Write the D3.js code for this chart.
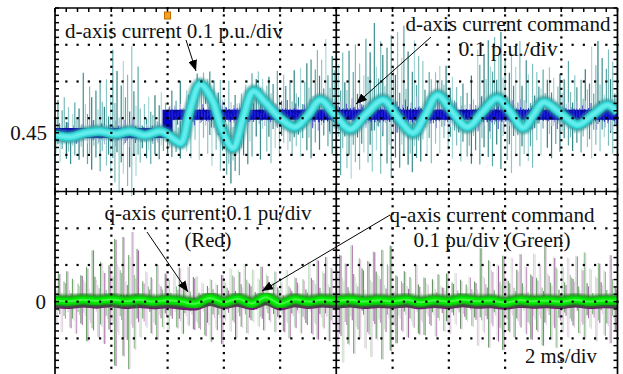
<!DOCTYPE html>
<html>
<head>
<meta charset="utf-8">
<script src="https://cdn.jsdelivr.net/npm/d3@7"></script>
<style>
  body { margin: 0; background: #fff; }
  svg { display: block; }
</style>
</head>
<body>
<script>
// ---- data (2 ms/div, 0.1 p.u./div) ----
const dTime = [0, 0.53, 1.07, 1.6, 2.14, 2.67, 3.2, 3.74, 3.99, 4.27, 4.48, 4.8, 5.16, 5.59, 5.94, 6.33, 6.69, 7.05, 7.47, 8.0, 8.54, 9.0, 9.43, 9.96, 10.5, 11.03, 11.67, 12.2, 12.74, 13.17, 13.6, 14.13, 14.66, 15.2, 15.73, 16.19, 16.65, 17.01, 17.37, 17.97, 18.58, 19.11, 19.64, 20];
const dCurrent = [0.445, 0.439, 0.45, 0.455, 0.447, 0.455, 0.444, 0.455, 0.447, 0.431, 0.423, 0.512, 0.583, 0.54, 0.458, 0.409, 0.491, 0.564, 0.534, 0.491, 0.466, 0.499, 0.54, 0.499, 0.46, 0.499, 0.54, 0.491, 0.45, 0.499, 0.553, 0.507, 0.466, 0.507, 0.545, 0.507, 0.464, 0.499, 0.534, 0.504, 0.472, 0.499, 0.526, 0.507];
const dCmdTime = [0, 4, 20];
const dCommand = [0.45, 0.5, 0.5];

const qTime = [0, 0.5, 1, 1.5, 2, 2.5, 3, 3.5, 4, 4.5, 5, 5.5, 6, 6.5, 7, 7.5, 8, 8.5, 9, 9.5, 10, 10.5, 11, 11.5, 12, 12.5, 13, 13.5, 14, 14.5, 15, 15.5, 16, 16.5, 17, 17.5, 18, 18.5, 19, 19.5, 20];
const qCommand = [0.004, 0.001, 0.005, 0.002, 0.006, 0.001, 0.005, 0.0, 0.004, 0.0, -0.006, 0.01, -0.002, 0.008, -0.005, 0.012, -0.006, 0.006, 0.0, 0.005, 0.002, 0.005, 0.0, 0.004, 0.001, 0.005, -0.002, 0.004, 0.0, 0.006, 0.001, 0.003, -0.003, 0.004, 0.001, 0.003, 0.0, 0.005, 0.0, 0.003, 0.002];
const qCurrent = [-0.01, -0.012, -0.008, -0.011, -0.007, -0.012, -0.009, -0.013, -0.01, -0.014, -0.016, -0.004, -0.012, -0.006, -0.015, -0.002, -0.016, -0.007, -0.012, -0.008, -0.01, -0.008, -0.012, -0.009, -0.011, -0.008, -0.013, -0.009, -0.012, -0.007, -0.011, -0.01, -0.014, -0.009, -0.011, -0.01, -0.012, -0.008, -0.012, -0.01, -0.011];

// switching-noise envelope per 1 ms slot (absolute values)
const dNoiseTop = [0.553, 0.616, 0.689, 0.567, 0.594, 0.621, 0.594, 0.621, 0.648, 0.708, 0.703, 0.752, 0.757, 0.648, 0.608, 0.735, 0.703, 0.635, 0.648, 0.711];
const dNoiseBottom = [0.363, 0.336, 0.254, 0.363, 0.377, 0.336, 0.309, 0.363, 0.377, 0.377, 0.322, 0.322, 0.328, 0.363, 0.363, 0.336, 0.336, 0.377, 0.39, 0.377];
const cmdNoise = [0.03, 0.035, 0.04, 0.03, 0.035, 0.04, 0.045, 0.035, 0.04, 0.05, 0.045, 0.05, 0.05, 0.04, 0.035, 0.05, 0.045, 0.04, 0.04, 0.045];
const qNoiseTop = [0.087, 0.141, 0.2, 0.1, 0.109, 0.073, 0.12, 0.1, 0.087, 0.128, 0.155, 0.16, 0.1, 0.087, 0.082, 0.147, 0.136, 0.16, 0.141, 0.128];
const qNoiseBottom = [-0.09, -0.13, -0.19, -0.117, -0.09, -0.125, -0.103, -0.09, -0.103, -0.117, -0.171, -0.171, -0.117, -0.103, -0.09, -0.136, -0.117, -0.13, -0.117, -0.117];
// relative spike lengths (hand read pattern)
const spikeUp = [0.42, 0.88, 0.27, 0.63, 0.95, 0.35, 0.71, 0.18, 0.54, 0.82, 0.4, 0.66, 0.23, 0.99, 0.47, 0.31, 0.76, 0.58, 0.2, 0.69, 0.37, 0.85, 0.5];
const spikeDown = [0.6, 0.3, 0.92, 0.45, 0.22, 0.78, 0.52, 0.97, 0.34, 0.68, 0.26, 0.83, 0.41, 0.57, 0.15, 0.74, 0.49, 0.88, 0.32];

const W = 623, H = 374;
const svg = d3.select("body").append("svg").attr("width", W).attr("height", H);

// pick a serif face that is really installed (compare against a sans width)
function pickSerif() {
  const probe = svg.append("text").attr("font-size", 40).text("d-axis current command");
  probe.attr("font-family", "Liberation Sans");
  const sans = probe.node().getComputedTextLength();
  let found = "serif";
  for (const f of ["Liberation Serif", "Times New Roman", "DejaVu Serif", "Noto Serif", "serif"]) {
    probe.attr("font-family", f);
    if (Math.abs(probe.node().getComputedTextLength() - sans) > 2) { found = f; break; }
  }
  probe.remove();
  return found;
}
const FONT = pickSerif();

const x = d3.scaleLinear().domain([0, 20]).range([55, 617.5]);
const div = d3.scaleLinear().domain([0, 10]).range([8, 375]);
const yD = d3.scaleLinear().domain([0.45, 0.55]).range([133, 133 - (div(1) - div(0))]);
const yQ = d3.scaleLinear().domain([0, 0.1]).range([div(8), div(7)]);

const defs = svg.append("defs");
defs.append("clipPath").attr("id", "plot")
  .append("rect").attr("x", x(0)).attr("y", div(0)).attr("width", x(20) - x(0)).attr("height", H - div(0));
const blur = defs.append("filter").attr("id", "soft").attr("x", "-5%").attr("y", "-50%").attr("width", "110%").attr("height", "200%");
blur.append("feGaussianBlur").attr("stdDeviation", 1.1);

const plot = svg.append("g").attr("clip-path", "url(#plot)");

function stepAt(times, vals) {
  return t => vals[Math.max(0, d3.bisectRight(times, t) - 1)];
}

function spikes(g, base, yScale, top, bottom, offset, step, colors, width) {
  const rows = d3.range(offset, 20, step).map((t, i) => {
    const s = Math.min(19, Math.floor(t));
    const b = base(t);
    return {
      t,
      y1: b + (top[s] - b) * spikeUp[i % spikeUp.length],
      y2: b - (b - bottom[s]) * spikeDown[i % spikeDown.length],
      c: colors[i % colors.length]
    };
  });
  g.selectAll(null).data(rows).join("line")
    .attr("x1", d => x(d.t)).attr("x2", d => x(d.t))
    .attr("y1", d => yScale(d.y1)).attr("y2", d => yScale(d.y2))
    .attr("stroke", d => d.c).attr("stroke-width", width);
}

// ---- top panel: d-axis ----
const dBase = d3.scaleLinear().domain(dTime).range(dCurrent);
const cmdBase = stepAt(dCmdTime, dCommand);

spikes(plot.append("g"), dBase, yD, dNoiseTop, dNoiseBottom, 0.03, 0.075,
  ["#8cc8c8", "#3d8f8f", "#a9d8d8", "#5aa8a8", "#7fbcbc", "#2f8080"], 1.2);

// lavender/blue spikes of the command trace
spikes(plot.append("g"), cmdBase, yD,
  cmdNoise.map((a, i) => cmdBase(i + 0.5) + a), cmdNoise.map((a, i) => cmdBase(i + 0.5) - a),
  0.06, 0.1, ["#9a9ad6", "#5a5ac8", "#b4b4e0"], 1.1);

const stepLine = d3.line().x(d => x(d[0])).y(d => yD(d[1])).curve(d3.curveStepAfter);
const cmdPts = dCmdTime.map((t, i) => [t, dCommand[i]]);
plot.append("path").attr("d", stepLine(cmdPts)).attr("fill", "none").attr("stroke", "#0a0aa8").attr("stroke-width", 10);
plot.append("path").attr("d", stepLine(cmdPts)).attr("fill", "none").attr("stroke", "#0000dd").attr("stroke-width", 5);
// ragged band edge
spikes(plot.append("g"), cmdBase, yD,
  cmdNoise.map((a, i) => cmdBase(i + 0.5) + a * 0.45), cmdNoise.map((a, i) => cmdBase(i + 0.5) - a * 0.45),
  0.0, 0.035, ["#1a1ac8", "#0808a0", "#2a2ae0"], 1);

const curve = d3.line().x(d => x(d[0])).y(d => yD(d[1])).curve(d3.curveCatmullRom);
const dPts = dTime.map((t, i) => [t, dCurrent[i]]);
const cyan = plot.append("g");
[["#2a9494", 13, 0.7], ["#2fc0c0", 9, 1], ["#38e2e2", 6, 1], ["#8ef4f4", 2.5, 0.8]].forEach(([c, w, o], k) => {
  cyan.append("path").attr("d", curve(dPts)).attr("fill", "none")
    .attr("stroke", c).attr("stroke-width", w).attr("stroke-opacity", o)
    .attr("stroke-linejoin", "round")
    .attr("filter", k === 0 || k === 3 ? "url(#soft)" : null);
});

// ---- bottom panel: q-axis ----
const qBaseCmd = d3.scaleLinear().domain(qTime).range(qCommand);
const qBaseCur = d3.scaleLinear().domain(qTime).range(qCurrent);

spikes(plot.append("g").attr("opacity", 0.75), qBaseCur, yQ, qNoiseTop, qNoiseBottom, 0.07, 0.1,
  ["#d2afd2", "#8c3c8c", "#dec4de", "#b070b0"], 1.1);
spikes(plot.append("g").attr("opacity", 0.75), qBaseCmd, yQ, qNoiseTop, qNoiseBottom, 0.02, 0.1,
  ["#a8d4a8", "#3d8a3d", "#c2dec2", "#6aa86a", "#2e6e2e"], 1.1);

const qLine = d3.line().x(d => x(d[0])).y(d => yQ(d[1])).curve(d3.curveCatmullRom);
const qCurPts = qTime.map((t, i) => [t, qCurrent[i]]);
const qCmdPts = qTime.map((t, i) => [t, qCommand[i]]);
plot.append("path").attr("d", qLine(qCurPts)).attr("fill", "none").attr("stroke", "#6a1a6a").attr("stroke-width", 6);
spikes(plot.append("g"), qBaseCmd, yQ,
  qNoiseTop.map(a => a * 0.1), qNoiseBottom.map(a => a * 0.1),
  0.0, 0.035, ["#1c7a1c", "#0e5a0e", "#22a022"], 1);
const green = plot.append("g");
[["#1f7a1f", 13, 0.8], ["#14b814", 9, 1], ["#00e800", 6, 1], ["#50ff50", 2, 0.8]].forEach(([c, w, o], k) => {
  green.append("path").attr("d", qLine(qCmdPts)).attr("fill", "none")
    .attr("stroke", c).attr("stroke-width", w).attr("stroke-opacity", o)
    .attr("stroke-linejoin", "round")
    .attr("filter", k === 0 ? "url(#soft)" : null);
});

// ---- graticule ----
const grid = svg.append("g");
const majX = d3.range(0, 21, 2), majY = d3.range(0, 11, 1);
const subX = d3.range(0, 20.01, 0.4), subY = d3.range(0, 10.01, 0.2);
const dots = [];
majY.filter(k => k !== 5 && k !== 0).forEach(k => subX.forEach(t => dots.push([x(t), div(k)])));
majX.filter(t => t !== 10 && t !== 0 && t !== 20).forEach(t => subY.forEach(k => dots.push([x(t), div(k)])));
grid.selectAll(null).data(dots).join("rect")
  .attr("x", d => d[0] - 1).attr("y", d => d[1] - 1)
  .attr("width", 2.2).attr("height", 2.2).attr("fill", "#000");

const frame = [
  [x(0), div(0), x(20), div(0)],
  [x(0), div(0), x(0), H],
  [x(20), div(0), x(20), H],
  [x(0), div(5), x(20), div(5)],
  [x(10), div(0), x(10), H]
];
grid.selectAll(null).data(frame).join("line")
  .attr("x1", d => d[0]).attr("y1", d => d[1]).attr("x2", d => d[2]).attr("y2", d => d[3])
  .attr("stroke", "#000").attr("stroke-width", 1.7);

const ticks = [];
subX.forEach(t => {
  ticks.push([x(t), div(0), x(t), div(0) + 4]);
  ticks.push([x(t), div(5) - 3.5, x(t), div(5) + 3.5]);
});
subY.forEach(k => {
  ticks.push([x(0), div(k), x(0) + 4, div(k)]);
  ticks.push([x(20) - 4, div(k), x(20), div(k)]);
  ticks.push([x(10) - 3.5, div(k), x(10) + 3.5, div(k)]);
});
grid.selectAll(null).data(ticks).join("line")
  .attr("x1", d => d[0]).attr("y1", d => d[1]).attr("x2", d => d[2]).attr("y2", d => d[3])
  .attr("stroke", "#000").attr("stroke-width", 1.5);

// trigger marker
svg.append("rect").attr("x", x(4) - 3).attr("y", 12).attr("width", 6).attr("height", 7)
  .attr("fill", "#f6a21c").attr("stroke", "#c06a08").attr("stroke-width", 1);

// ---- labels & arrows ----
defs.append("marker").attr("id", "ah")
  .attr("markerUnits", "userSpaceOnUse").attr("markerWidth", 12).attr("markerHeight", 9)
  .attr("refX", 11).attr("refY", 4.5).attr("orient", "auto")
  .append("path").attr("d", "M0,0 L11,4.5 L0,9 Z").attr("fill", "#000");

const arrows = [
  [186, 40, 196, 71],
  [431, 37, 356, 104],
  [147, 232, 188, 292],
  [390, 215, 262, 291]
];
svg.selectAll(null).data(arrows).join("line")
  .attr("x1", d => d[0]).attr("y1", d => d[1]).attr("x2", d => d[2]).attr("y2", d => d[3])
  .attr("stroke", "#000").attr("stroke-width", 1).attr("marker-end", "url(#ah)");

const labels = [
  ["d-axis current 0.1 p.u./div", 65, 38, "start", 218],
  ["d-axis current command", 508, 31, "middle", 205],
  ["0.1 p.u./div", 508, 56, "middle", 99],
  ["q-axis current:0.1 pu/div", 208, 220, "middle", 207],
  ["(Red)", 208, 247, "middle", 47],
  ["q-axis current command", 492, 222, "middle", 205],
  ["0.1 pu/div (Green)", 492, 247, "middle", 157],
  ["2 ms/div", 525, 363, "start", 72]
];
svg.selectAll(null).data(labels).join("text")
  .attr("x", d => d[1]).attr("y", d => d[2]).attr("text-anchor", d => d[3])
  .attr("font-family", FONT).attr("font-size", 21).attr("fill", "#111")
  .attr("textLength", d => d[4]).attr("lengthAdjust", "spacingAndGlyphs")
  .text(d => d[0]);

svg.append("text").attr("x", 47).attr("y", yD(0.45) + 7).attr("text-anchor", "end")
  .attr("font-family", FONT).attr("font-size", 21).attr("fill", "#111").text("0.45");
svg.append("text").attr("x", 46).attr("y", yQ(0) + 7).attr("text-anchor", "end")
  .attr("font-family", FONT).attr("font-size", 21).attr("fill", "#111").text("0");
</script>
</body>
</html>
